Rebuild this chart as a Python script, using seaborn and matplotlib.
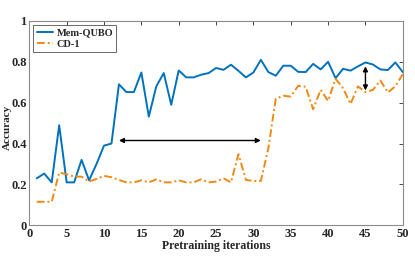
import numpy as np
import pandas as pd
import matplotlib
matplotlib.use("Agg")
import matplotlib.pyplot as plt
import seaborn as sns

# DATA
# ====================================
iterations = list(range(1, 51))
mem_qubo = [0.23, 0.253, 0.21, 0.49, 0.21, 0.21, 0.32, 0.22, 0.30, 0.39,
            0.40, 0.69, 0.652, 0.652, 0.748, 0.532, 0.68, 0.745, 0.59, 0.758,
            0.724, 0.724, 0.737, 0.745, 0.77, 0.761, 0.786, 0.756, 0.724, 0.748,
            0.81, 0.75, 0.732, 0.781, 0.781, 0.751, 0.75, 0.79, 0.763, 0.80,
            0.72, 0.766, 0.757, 0.778, 0.797, 0.787, 0.763, 0.76, 0.797, 0.75]
cd_1 = [0.115, 0.115, 0.115, 0.258, 0.25, 0.238, 0.238, 0.214, 0.227, 0.242,
        0.235, 0.222, 0.21, 0.21, 0.22, 0.21, 0.225, 0.21, 0.21, 0.22,
        0.21, 0.21, 0.225, 0.21, 0.214, 0.23, 0.21, 0.348, 0.222, 0.217,
        0.217, 0.377, 0.62, 0.634, 0.63, 0.683, 0.678, 0.568, 0.663, 0.609,
        0.717, 0.671, 0.594, 0.68, 0.652, 0.663, 0.709, 0.65, 0.68, 0.74]
series_names = ["Mem-QUBO", "CD-1"]
x_ticks = [0, 5, 10, 15, 20, 25, 30, 35, 40, 45, 50]
y_ticks = [0, 0.2, 0.4, 0.6, 0.8, 1]
y_ticklabels = ["0", "0.2", "0.4", "0.6", "0.8", "1"]

df = pd.DataFrame({
    "iteration": iterations * 2,
    "accuracy": mem_qubo + cd_1,
    "method": [series_names[0]] * len(mem_qubo) + [series_names[1]] * len(cd_1),
})

# STYLE
# ====================================
sns.set_style("white")
plt.rcParams["font.family"] = ["Liberation Serif", "DejaVu Serif"]
plt.rcParams["font.weight"] = "bold"

blue = "#0072BD"
orange = "#EE8A14"

fig = plt.figure(figsize=(4.15, 2.56), dpi=100)
ax = fig.add_axes([0.0706, 0.12, 0.90, 0.798])

sns.lineplot(data=df, x="iteration", y="accuracy", hue="method", style="method",
             palette=[blue, orange], dashes=[(None, None), (4, 1.5, 1, 1.5)],
             linewidth=1.4, ax=ax)

# arrows
ax.annotate("", xy=(12, 0.415), xytext=(31, 0.415),
            arrowprops=dict(arrowstyle="<|-|>", color="black", lw=1.0,
                            mutation_scale=7, shrinkA=0, shrinkB=0))
ax.annotate("", xy=(45, 0.778), xytext=(45, 0.66),
            arrowprops=dict(arrowstyle="<|-|>", color="black", lw=1.0,
                            mutation_scale=7, shrinkA=0, shrinkB=0))

ax.set_xlim(0, 50)
ax.set_ylim(0, 1)
ax.set_xticks(x_ticks)
ax.set_yticks(y_ticks)
ax.set_yticklabels(y_ticklabels)
ax.tick_params(direction="in", length=3, width=0.6, colors="#262626",
               labelsize=9, top=True, right=True, pad=2)
for lab in ax.get_xticklabels() + ax.get_yticklabels():
    lab.set_fontweight("bold")
for s in ax.spines.values():
    s.set_color("#8c8c8c")
    s.set_linewidth(0.8)

ax.set_xlabel("Pretraining iterations", fontsize=8.5, fontweight="bold", labelpad=0)
ax.set_ylabel("Accuracy", fontsize=8, fontweight="bold")
ax.yaxis.set_label_coords(-0.046, 0.48)

leg = ax.legend(loc="upper left", fontsize=7.5, frameon=True, fancybox=False,
                handlelength=1.6, handletextpad=0.3, borderpad=0.3,
                labelspacing=0.2, borderaxespad=0.4)
leg.get_frame().set_edgecolor("#262626")
leg.get_frame().set_linewidth(0.6)
for t in leg.get_texts():
    t.set_fontweight("bold")

plt.savefig("out.png", dpi=100)
